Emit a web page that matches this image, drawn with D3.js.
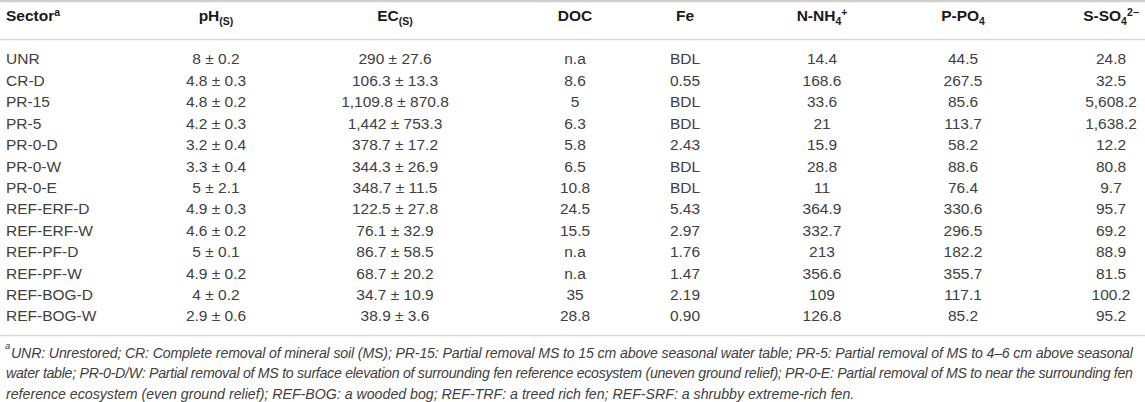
<!DOCTYPE html>
<html lang="en">
<head>
    <meta charset="UTF-8">
    <title>Soil chemistry table</title>
    <script src="https://cdn.jsdelivr.net/npm/d3@7"></script>
    <style>
        body { margin: 0; background: #fff; }
        text { font-family: "Liberation Sans", Arial, sans-serif; }
    </style>
</head>
<body>
    <div id="chart"></div>

    <script>
        // table contents
        const sectors = ["UNR", "CR-D", "PR-15", "PR-5", "PR-0-D", "PR-0-W", "PR-0-E",
            "REF-ERF-D", "REF-ERF-W", "REF-PF-D", "REF-PF-W", "REF-BOG-D", "REF-BOG-W"];
        const ph = ["8 ± 0.2", "4.8 ± 0.3", "4.8 ± 0.2", "4.2 ± 0.3", "3.2 ± 0.4", "3.3 ± 0.4", "5 ± 2.1",
            "4.9 ± 0.3", "4.6 ± 0.2", "5 ± 0.1", "4.9 ± 0.2", "4 ± 0.2", "2.9 ± 0.6"];
        const ec = ["290 ± 27.6", "106.3 ± 13.3", "1,109.8 ± 870.8", "1,442 ± 753.3", "378.7 ± 17.2",
            "344.3 ± 26.9", "348.7 ± 11.5", "122.5 ± 27.8", "76.1 ± 32.9", "86.7 ± 58.5",
            "68.7 ± 20.2", "34.7 ± 10.9", "38.9 ± 3.6"];
        const doc = ["n.a", "8.6", "5", "6.3", "5.8", "6.5", "10.8", "24.5", "15.5", "n.a", "n.a", "35", "28.8"];
        const fe = ["BDL", "0.55", "BDL", "BDL", "2.43", "BDL", "BDL", "5.43", "2.97", "1.76", "1.47", "2.19", "0.90"];
        const nh4 = ["14.4", "168.6", "33.6", "21", "15.9", "28.8", "11", "364.9", "332.7", "213", "356.6", "109", "126.8"];
        const po4 = ["44.5", "267.5", "85.6", "113.7", "58.2", "88.6", "76.4", "330.6", "296.5", "182.2", "355.7", "117.1", "85.2"];
        const so4 = ["24.8", "32.5", "5,608.2", "1,638.2", "12.2", "80.8", "9.7", "95.7", "69.2", "88.9", "81.5", "100.2", "95.2"];

        const columns = ["sector", "ph", "ec", "doc", "fe", "nh4", "po4", "so4"];
        // header pieces: [text, kind] where kind is "", "sub" or "sup"
        const headers = {
            sector: [["Sector", ""], ["a", "sup"]],
            ph: [["pH", ""], ["(S)", "sub"]],
            ec: [["EC", ""], ["(S)", "sub"]],
            doc: [["DOC", ""]],
            fe: [["Fe", ""]],
            nh4: [["N-NH", ""], ["4", "sub"], ["+", "sup"]],
            po4: [["P-PO", ""], ["4", "sub"]],
            so4: [["S-SO", ""], ["4", "sub"], ["2−", "sup"]]
        };
        const footnote = [
            "UNR: Unrestored; CR: Complete removal of mineral soil (MS); PR-15: Partial removal MS to 15 cm above seasonal water table; PR-5: Partial removal of MS to 4–6 cm above seasonal",
            "water table; PR-0-D/W: Partial removal of MS to surface elevation of surrounding fen reference ecosystem (uneven ground relief); PR-0-E: Partial removal of MS to near the surrounding fen",
            "reference ecosystem (even ground relief); REF-BOG: a wooded bog; REF-TRF: a treed rich fen; REF-SRF: a shrubby extreme-rich fen."
        ];

        const width = 1145;
        const height = 402;
        const fs = 15.5;

        const rows = sectors.map((s, i) => ({
            sector: s, ph: ph[i], ec: ec[i], doc: doc[i], fe: fe[i],
            nh4: nh4[i], po4: po4[i], so4: so4[i]
        }));

        const x = d3.scaleOrdinal()
            .domain(columns)
            .range([6, 216, 395, 575, 685, 822, 963, 1111]);

        const y = d3.scalePoint()
            .domain(sectors)
            .range([59, 316]);

        const svg = d3.select("#chart").append("svg")
            .attr("width", width)
            .attr("height", height);

        // rules
        svg.append("line")
            .attr("x1", 0).attr("x2", width)
            .attr("y1", 1).attr("y2", 1)
            .attr("stroke", "#cfcfcf").attr("stroke-width", 2.5);
        svg.append("line")
            .attr("x1", 0).attr("x2", width)
            .attr("y1", 39.5).attr("y2", 39.5)
            .attr("stroke", "#d6d6d6").attr("stroke-width", 1.5);
        svg.append("line")
            .attr("x1", 0).attr("x2", width)
            .attr("y1", 335.5).attr("y2", 335.5)
            .attr("stroke", "#d6d6d6").attr("stroke-width", 1.5);

        // header
        const head = svg.append("g")
            .attr("font-size", fs)
            .attr("font-weight", 700)
            .attr("fill", "#1a1a1a")
            .selectAll("text")
            .data(columns)
            .join("text")
            .attr("x", c => x(c))
            .attr("y", 21)
            .attr("dy", "0.35em")
            .attr("text-anchor", c => c === "sector" ? "start" : "middle");

        head.each(function(c) {
            const t = d3.select(this);
            let shift = 0;
            headers[c].forEach(([txt, kind]) => {
                const off = kind === "sub" ? 4 : kind === "sup" ? -5 : 0;
                t.append("tspan")
                    .attr("dy", off - shift)
                    .attr("font-size", kind ? 10.5 : fs)
                    .text(txt);
                shift = off;
            });
        });

        // body cells
        svg.append("g")
            .attr("font-size", fs)
            .attr("fill", "#404040")
            .selectAll("g")
            .data(rows)
            .join("g")
            .attr("transform", d => `translate(0,${y(d.sector)})`)
            .selectAll("text")
            .data(d => columns.map(c => ({col: c, value: d[c]})))
            .join("text")
            .attr("x", d => x(d.col))
            .attr("dy", "0.35em")
            .attr("text-anchor", d => d.col === "sector" ? "start" : "middle")
            .text(d => d.value);

        // footnote
        const note = svg.append("g")
            .attr("font-style", "italic")
            .attr("fill", "#404040");

        // size the note so its last (ragged) line runs to about x = 855
        const probe = note.append("text").attr("font-size", 10).text(footnote[2]);
        const noteSize = 10 * 849 / probe.node().getComputedTextLength();
        probe.remove();
        note.attr("font-size", noteSize);

        note.append("text")
            .attr("x", 5)
            .attr("y", 349)
            .attr("font-size", 9.5)
            .text("a");

        note.selectAll("text.line")
            .data(footnote)
            .join("text")
            .attr("class", "line")
            .attr("x", (d, i) => i === 0 ? 11 : 6)
            .attr("y", (d, i) => 353 + i * 20.5)
            .attr("dy", "0.35em")
            .each(function(d, i) {
                if (i < 2) {
                    d3.select(this)
                        .attr("textLength", i === 0 ? 1122 : 1127)
                        .attr("lengthAdjust", "spacing");
                }
            })
            .text(d => d);
    </script>
</body>
</html>
